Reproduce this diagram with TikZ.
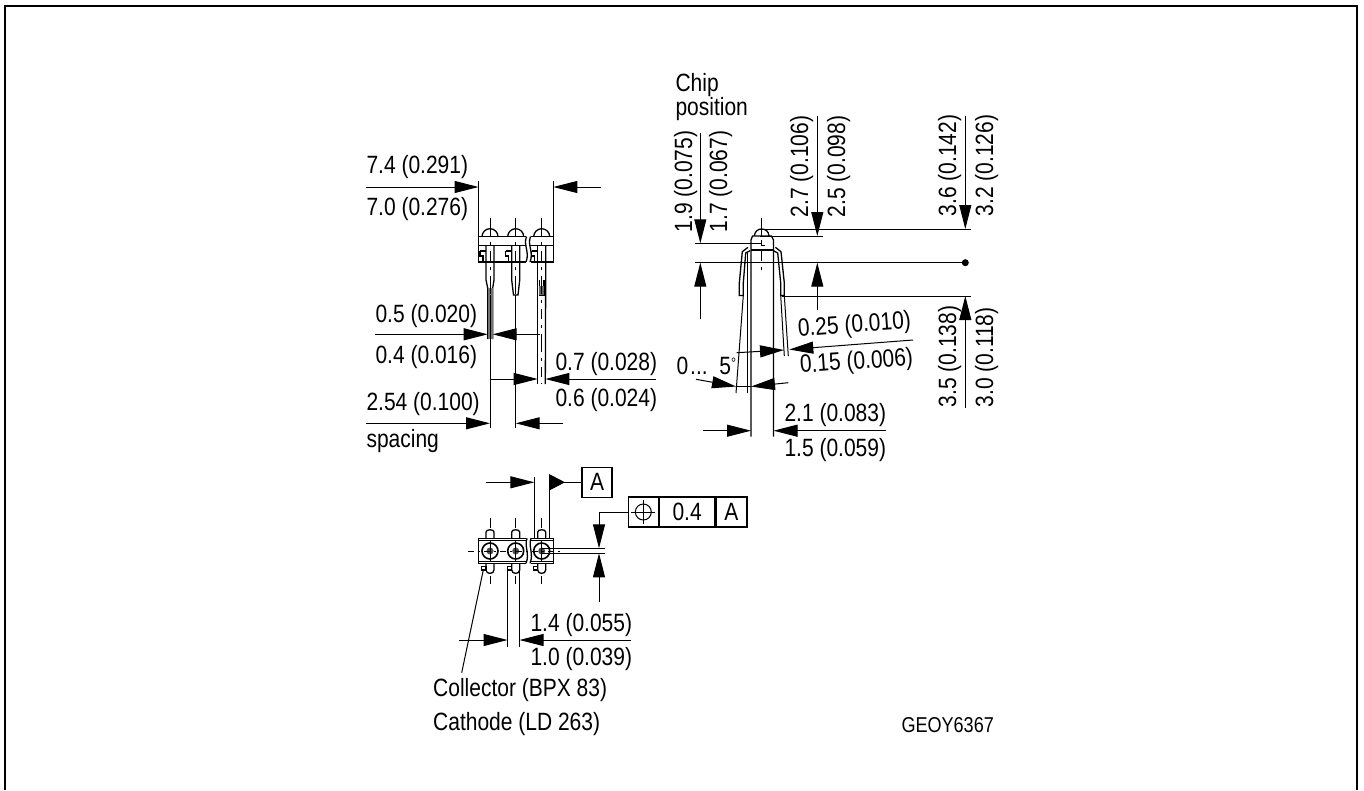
\documentclass[tikz,border=0pt]{standalone}
\usepackage{fontspec}
\setmainfont[FakeStretch=0.84]{Liberation Sans}
\usetikzlibrary{arrows.meta}

\begin{document}
\begin{tikzpicture}[x=1pt, y=-1pt, line width=1pt]
    % Define styles
    \tikzstyle{label} = [anchor=base west, inner sep=0pt, font=\fontsize{25}{25}\selectfont]
    \tikzstyle{vlabel} = [label, rotate=90]
    \tikzstyle{arrow} = [-{Triangle[length=24pt,width=12pt]}]
    \tikzstyle{outline} = [line width=1.3pt]
    \tikzstyle{axis} = [line width=0.8pt, dash pattern=on 18pt off 6pt on 3pt off 6pt on 10pt off 6pt on 3pt off 6pt]
    \tikzstyle{shortaxis} = [line width=0.8pt, dash pattern=on 6pt off 4pt on 2pt off 4pt]
    \tikzstyle{cell} = [draw, line width=1.3pt, inner sep=0pt, minimum height=30pt, font=\fontsize{25}{25}\selectfont]

    \useasboundingbox (0,0) rectangle (1364,790);

    % Sheet frame
    \draw [line width=2pt] (5,790) -- (5,6) -- (1357,6) -- (1357,790);

    % Side view, domes and body
    \draw [outline] (478.3,236.7) rectangle (553.3,262);
    \draw [outline] (478.3,245.5) -- (553.3,245.5);
    \draw [outline] (482,236.7) arc (180:360:8 and 8);
    \draw [outline] (507.7,236.7) arc (180:360:8 and 8);
    \draw [outline] (533.7,236.7) arc (180:360:8 and 8);
    \fill [white] (526.5,235) -- (530.5,235) -- (531,263) -- (526,263) -- cycle;
    \draw [outline] (526.5,236.7) .. controls (523,245) and (530,252) .. (526,262);
    \draw [outline] (530.5,236.7) .. controls (527,245) and (534,252) .. (530,262);
    \draw [outline] (553.3,245.5) -- (530,245.5);
    % Side view, pins
    \draw [outline] (486,245.5) -- (486,280) -- (487.7,288) -- (487.7,339);
    \draw [outline] (494,245.5) -- (494,280) -- (492.7,288) -- (492.7,339);
    \fill [black!55] (487.7,288) rectangle (492.7,339);
    \draw [outline] (511.7,245.5) -- (511.7,280) -- (513.5,295) -- (518,295) -- (519.7,280) -- (519.7,245.5);
    \draw [outline] (537.7,245.5) -- (537.7,384);
    \draw [outline] (545.7,245.5) -- (545.7,280) -- (545.3,384);
    \draw [outline] (539.2,280) -- (539.2,295) -- (544,295) -- (544,280);
    \fill [black!60] (539.2,286) rectangle (544,295);
    % Side view, notches
    \draw [outline] (480,251) -- (486,251);
    \draw [outline] (480,251) -- (480,256) -- (483,256) -- (483,262);
    \draw [outline] (505.5,251) -- (511.7,251);
    \draw [outline] (505.5,251) -- (505.5,256) -- (508.5,256) -- (508.5,262);
    \draw [outline] (531.5,251) -- (537.7,251);
    \draw [outline] (531.5,251) -- (531.5,256) -- (534.5,256) -- (534.5,262);
    % Side view, centre lines
    \draw [axis] (490,218) -- (490,295);
    \draw [axis] (515.7,218) -- (515.7,295);
    \draw [axis] (541.7,218) -- (541.7,384);
    \draw (490,295) -- (490,428);
    \draw (515.7,295) -- (515.7,428);

    % Side view, dimensions
    \draw (478.5,181) -- (478.5,237);
    \draw (553.3,181) -- (553.3,237);
    \draw [arrow] (366,187) -- (478.5,187);
    \draw [arrow] (600.7,187) -- (553.3,187);
    \draw [arrow] (375,334.3) -- (487.7,334.3);
    \draw [arrow] (540,334.3) -- (492.7,334.3);
    \draw [arrow] (490,379) -- (537.7,379);
    \draw [arrow] (656,379) -- (545.3,379);
    \draw [arrow] (366,423.3) -- (490,423.3);
    \draw [arrow] (563,423.3) -- (515.7,423.3);

    \node (widthmax) [label] at (366,173) {7.4 (0.291)};
    \node (widthmin) [label] at (366,215) {7.0 (0.276)};
    \node (leadmax) [label] at (375,322.7) {0.5 (0.020)};
    \node (leadmin) [label] at (375,363) {0.4 (0.016)};
    \node (pinmax) [label] at (555,370) {0.7 (0.028)};
    \node (pinmin) [label] at (555,406.7) {0.6 (0.024)};
    \node (pitch) [label] at (366,410) {2.54 (0.100)};
    \node (spacing) [label] at (366,447) {spacing};

    % Front view, lens and leads
    \draw [outline] (754.3,236) .. controls (755,231) and (758,229) .. (761.7,229) .. controls (765.4,229) and (768.4,231) .. (769.1,236);
    \draw [outline] (751,436.7) -- (751,240) -- (752.5,236) -- (771.5,236) -- (773.5,240) -- (773.5,436.7);
    \draw [outline] (751,250) -- (773.5,250);
    \draw [outline] (748,247.3) -- (742.3,251.7) -- (739.3,283) -- (739.3,295.5) -- (743.3,295.5) -- (743.3,283) -- (745.7,253) -- (750,250.7);
    \draw [outline] (775.4,247.3) -- (781,251.7) -- (784.3,283) -- (784.3,295.5) -- (780.7,295.5) -- (780.7,283) -- (777.7,253) -- (773.5,250.7);
    \draw [line width=1pt] (743.3,295.5) -- (736,393);
    \draw [line width=1pt] (747.3,253) -- (747.3,393);
    \draw [line width=1pt] (780.7,295.5) -- (784.3,356);
    \draw [line width=1pt] (784.3,295.5) -- (788.3,356);
    \draw [axis] (761.7,218) -- (761.7,273);
    \draw (761.7,240) -- (761.7,245) -- (765,245);

    % Front view, dimensions
    \draw (695,243.3) -- (761.7,243.3);
    \draw (760,236) -- (822.7,236);
    \draw (761.7,229) -- (970.7,229);
    \draw (695,262.7) -- (965.3,262.7);
    \draw (781.7,296) -- (970.7,296);
    \draw [arrow] (700.3,133) -- (700.3,243.3);
    \draw [arrow] (700.3,319.3) -- (700.3,262.7);
    \draw [arrow] (817.3,116) -- (817.3,236);
    \draw [arrow] (817.3,310) -- (817.3,262.7);
    \draw [arrow] (965.3,116) -- (965.3,229);
    \draw [arrow] (965.3,408) -- (965.3,296);
    \fill (965.3,262.7) circle (3.5);
    \draw [arrow] (736.7,352.7) -- (784,350);
    \draw [arrow] (913,340) -- (789.3,349.5);
    \draw [arrow] (696,379.3) -- (736,386.5);
    \draw [arrow] (788.3,382.7) -- (751,386.5);
    \draw (736,386.5) -- (751,386.5);
    \draw [arrow] (702.7,430.7) -- (751,430.7);
    \draw [arrow] (886,430.7) -- (773.5,430.7);

    \node (chip) [label] at (675,91) {Chip};
    \node (position) [label] at (675,115) {position};
    \node (chipmax) [vlabel] at (692,232.7) {1.9 (0.075)};
    \node (chipmin) [vlabel] at (727,232.7) {1.7 (0.067)};
    \node (lensmax) [vlabel] at (808,218) {2.7 (0.106)};
    \node (lensmin) [vlabel] at (845,218) {2.5 (0.098)};
    \node (topmax) [vlabel] at (956,217) {3.6 (0.142)};
    \node (topmin) [vlabel] at (993,217) {3.2 (0.126)};
    \node (seatmax) [vlabel] at (956,408) {3.5 (0.138)};
    \node (seatmin) [vlabel] at (993,408) {3.0 (0.118)};
    \node (thickmax) [label, rotate=4.3] at (798,336.7) {0.25 (0.010)};
    \node (thickmin) [label, rotate=4] at (800,373) {0.15 (0.006)};
    \node (angle) [label] at (676,374) {0\kern2pt... \kern4pt5\raisebox{6pt}{\fontsize{15}{15}\selectfont °}};
    \node (bodymax) [label] at (784,421.7) {2.1 (0.083)};
    \node (bodymin) [label] at (784,456.7) {1.5 (0.059)};

    % Bottom view, body
    \draw [outline] (486,538.3) -- (486,532) .. controls (486,529) and (494,529) .. (494,532) -- (494,538.3);
    \draw [outline] (511.7,538.3) -- (511.7,532) .. controls (511.7,529) and (519.7,529) .. (519.7,532) -- (519.7,538.3);
    \draw [outline] (537.7,538.3) -- (537.7,532) .. controls (537.7,529) and (545.7,529) .. (545.7,532) -- (545.7,538.3);
    \draw [outline] (486,563.3) -- (486,570) .. controls (486,574.5) and (494,574.5) .. (494,570) -- (494,563.3);
    \draw [outline] (511.7,563.3) -- (511.7,570) .. controls (511.7,574.5) and (519.7,574.5) .. (519.7,570) -- (519.7,563.3);
    \draw [outline] (537.7,563.3) -- (537.7,570) .. controls (537.7,574.5) and (545.7,574.5) .. (545.7,570) -- (545.7,563.3);
    \draw [outline] (481.7,566.5) rectangle (486,570);
    \draw [outline] (507.5,566.5) rectangle (511.7,570);
    \draw [outline] (533.3,566.5) rectangle (537.7,570);
    \draw [line width=1.6pt, fill=white] (478.3,538.3) rectangle (553.3,563.3);
    \draw (478.3,540.5) -- (553.3,540.5);
    \draw (478.3,561) -- (553.3,561);
    \fill [white] (526,537) rectangle (531,565);
    \draw [outline] (527,538.3) .. controls (524,546) and (530,554) .. (526,563.3);
    \draw [outline] (531,538.3) .. controls (528,546) and (534,554) .. (530,563.3);
    \draw [line width=1.6pt] (490,551) circle (8);
    \draw [line width=1.6pt] (515.7,551) circle (8);
    \draw [line width=1.6pt] (541.7,551) circle (8);
    \fill [black!70] (490,551) circle (3.5);
    \fill [black!70] (515.7,551) circle (3.5);
    \fill [black!70] (541.7,551) circle (3.5);
    % Bottom view, centre lines
    \draw (490,518) -- (490,528);
    \draw (515.7,518) -- (515.7,528);
    \draw (541.7,518) -- (541.7,528);
    \draw (490,576) -- (490,584);
    \draw (515.7,576) -- (515.7,584);
    \draw (541.7,576) -- (541.7,584);
    \draw [line width=0.8pt] (490,540) -- (490,562);
    \draw [line width=0.8pt] (515.7,540) -- (515.7,562);
    \draw [line width=0.8pt] (541.7,540) -- (541.7,562);
    \draw [shortaxis] (468,551) -- (563,551);

    % Bottom view, dimensions and tolerance frame
    \node (datumbox) [cell, minimum width=30pt] at (597,482.3) {A};
    \node (posymbol) [cell, minimum width=30pt] at (643.3,512) {};
    \node (posvalue) [cell, minimum width=55pt, right=0pt] at (posymbol.east) {0.4};
    \node (posdatum) [cell, minimum width=31pt, right=0pt] at (posvalue.east) {A};
    \draw (posymbol.center) circle (8);
    \draw ([xshift=-12pt]posymbol.center) -- ([xshift=12pt]posymbol.center);
    \draw ([yshift=-12pt]posymbol.center) -- ([yshift=12pt]posymbol.center);
    \draw (534.3,476.7) -- (534.3,538.3);
    \draw (549,476.7) -- (549,538.3);
    \draw [arrow] (486,482.3) -- (534.3,482.3);
    \draw (549,482.3) -- (datumbox.west);
    \fill (549,474) -- (565,482.3) -- (549,490.6) -- cycle;
    \draw [arrow] (posymbol.west) -| (599,548.3);
    \draw [arrow] (599,601.7) -- (599,553.3);
    \draw (541.7,548.3) -- (605,548.3);
    \draw (541.7,553.3) -- (605,553.3);
    \draw (507.5,567) -- (507.5,646.7);
    \draw (519.5,567) -- (519.5,646.7);
    \draw [arrow] (459.3,640) -- (507.5,640);
    \draw [arrow] (630.7,640) -- (519.5,640);
    \draw (483.3,570) -- (461.7,672.7);

    \node (holemax) [label] at (530,631) {1.4 (0.055)};
    \node (holemin) [label] at (530,665) {1.0 (0.039)};
    \node (collector) [label] at (432.7,696) {Collector (BPX 83)};
    \node (cathode) [label] at (432.7,730) {Cathode (LD 263)};
    \node (code) [anchor=base west, inner sep=0pt, font=\fontsize{21.5}{21.5}\selectfont] at (901,732) {GEOY6367};
\end{tikzpicture}
\end{document}
